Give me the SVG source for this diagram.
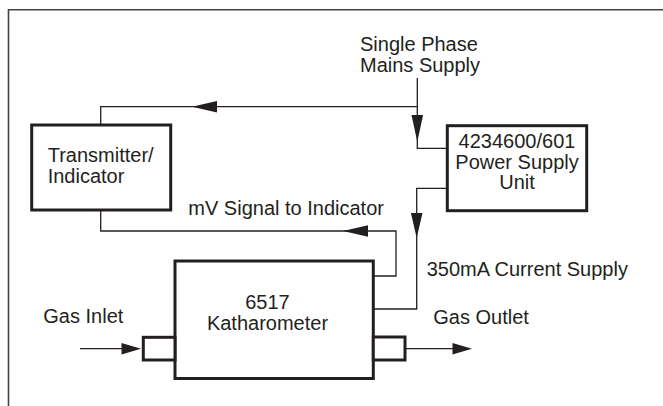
<svg xmlns="http://www.w3.org/2000/svg" width="663" height="406" viewBox="0 0 663 406">
<defs>
<style>
text{font-family:"Liberation Sans",Arial,sans-serif;font-size:20px;fill:#231f20}
.box{fill:#fff;stroke:#231f20;stroke-width:3}
.ln{fill:none;stroke:#231f20;stroke-width:1.3}
.ah{fill:#231f20;stroke:none}
</style>
</defs>
<rect width="663" height="406" fill="#fff"/>
<g id="frame">
<path d="M8.5,406 V9.8 H663" fill="none" stroke="#444" stroke-width="1.6"/>
</g>
<g id="connectors">
<path class="ln" d="M417.3,78 V148.3 H447"/>
<path class="ln" d="M417.3,106.7 H100.7 V125"/>
<path class="ln" d="M447,188.3 H416.7 V309 H373"/>
<path class="ln" d="M373,276 H396 V231 H100.7 V210"/>
<path class="ln" d="M80,348.7 H125"/>
<path class="ln" d="M405,348.7 H455"/>
<polygon class="ah" points="192,106.7 217,101 217,112.4"/>
<polygon class="ah" points="417.3,141.7 411.5,115 423.1,115"/>
<polygon class="ah" points="416.7,238 410.9,213 422.5,213"/>
<polygon class="ah" points="343,231 368,225.3 368,236.7"/>
<polygon class="ah" points="141,348.7 121.5,343 121.5,354.4"/>
<polygon class="ah" points="472,348.7 452.5,343 452.5,354.4"/>
</g>
<g id="mains">
<text x="360" y="50.7">Single Phase</text>
<text x="360" y="71.7">Mains Supply</text>
</g>
<g id="transmitter">
<rect class="box" x="31.7" y="125" width="139" height="85"/>
<text x="47.7" y="161.7">Transmitter/</text>
<text x="47.7" y="183">Indicator</text>
</g>
<g id="psu">
<rect class="box" x="447.3" y="125.7" width="139.4" height="85"/>
<text x="517" y="148.3" text-anchor="middle">4234600/601</text>
<text x="517" y="168.5" text-anchor="middle">Power Supply</text>
<text x="517" y="188.7" text-anchor="middle">Unit</text>
</g>
<g id="katharometer">
<rect class="box" x="175" y="261" width="198.3" height="117.5"/>
<text x="267.5" y="309.3" text-anchor="middle">6517</text>
<text x="267.5" y="330" text-anchor="middle">Katharometer</text>
</g>
<g id="inlet">
<rect class="box" x="143.3" y="337.3" width="31.7" height="22.7"/>
</g>
<g id="outlet">
<rect class="box" x="373.3" y="337" width="31.7" height="23"/>
</g>
<g id="labels">
<text x="188.3" y="215">mV Signal to Indicator</text>
<text x="426.7" y="275.5">350mA Current Supply</text>
<text x="43.3" y="323.3">Gas Inlet</text>
<text x="433.3" y="323.5">Gas Outlet</text>
</g>
</svg>
